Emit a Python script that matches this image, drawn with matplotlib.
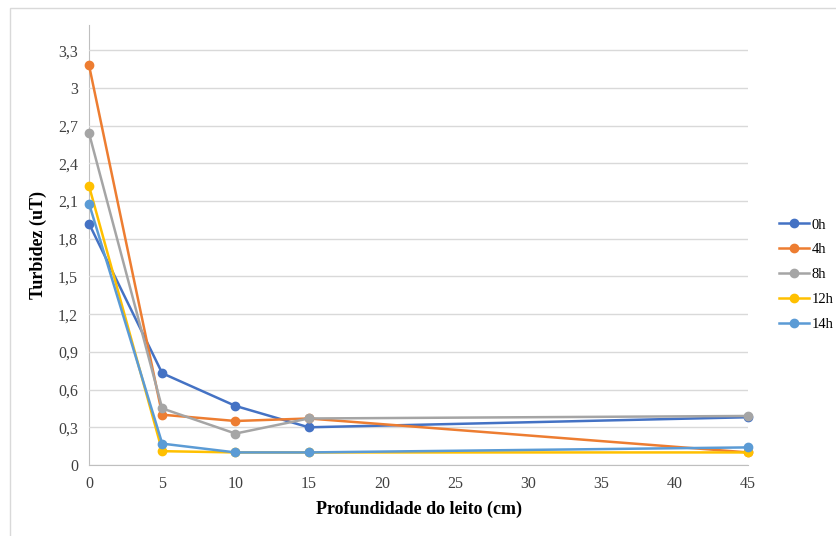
import matplotlib
matplotlib.use("Agg")
import matplotlib.pyplot as plt
from matplotlib.patches import Rectangle

# profundidade do leito (cm)
depth = [0, 5, 10, 15, 45]

# turbidez (uT) por tempo
turb_0h = [1.92, 0.73, 0.47, 0.30, 0.38]
turb_4h = [3.18, 0.40, 0.35, 0.37, 0.10]
turb_8h = [2.64, 0.45, 0.25, 0.37, 0.39]
turb_12h = [2.22, 0.11, 0.10, 0.10, 0.10]
turb_14h = [2.08, 0.17, 0.10, 0.10, 0.14]

series = [
    ("0h", turb_0h, "#4472C4"),
    ("4h", turb_4h, "#ED7D31"),
    ("8h", turb_8h, "#A5A5A5"),
    ("12h", turb_12h, "#FFC000"),
    ("14h", turb_14h, "#5B9BD5"),
]

yticks = [0, 0.3, 0.6, 0.9, 1.2, 1.5, 1.8, 2.1, 2.4, 2.7, 3.0, 3.3]
ylabels = ["0", "0,3", "0,6", "0,9", "1,2", "1,5", "1,8", "2,1", "2,4", "2,7", "3", "3,3"]
xticks = [0, 5, 10, 15, 20, 25, 30, 35, 40, 45]

plt.rcParams['font.family'] = ['Liberation Serif', 'DejaVu Serif']

fig = plt.figure(figsize=(8.36, 5.36), dpi=100)
# chart border
fig.patches.append(Rectangle((10/836, -0.01), 1.0, 1 - 8/536 + 0.01, transform=fig.transFigure,
                             fill=False, edgecolor="#D9D9D9", linewidth=1))
ax = fig.add_axes([89/836, 1 - 465/536, (748 - 89)/836, (465 - 25)/536])

for name, vals, col in series:
    ax.plot(depth, vals, color=col, linewidth=1.8, marker="o", markersize=6,
            label=name, clip_on=False)

ax.set_xlim(0, 45)
ax.set_ylim(0, 3.5)
ax.set_xticks(xticks)
ax.set_xticklabels([str(x) for x in xticks])
ax.set_yticks(yticks)
ax.set_yticklabels(ylabels)
ax.tick_params(length=0, labelsize=11.5, colors="#404040", pad=8)
ax.grid(axis="y", color="#D9D9D9", linewidth=1)
ax.set_axisbelow(True)
for s in ["top", "right"]:
    ax.spines[s].set_visible(False)
ax.spines["left"].set_color("#BFBFBF")
ax.spines["bottom"].set_color("#BFBFBF")
ax.spines["left"].set_zorder(0.5)
ax.spines["bottom"].set_zorder(0.5)

ax.set_xlabel("Profundidade do leito (cm)", fontsize=13, fontweight="bold", labelpad=6)
ax.set_ylabel("Turbidez (uT)", fontsize=13, fontweight="bold", labelpad=8)

ax.legend(loc="upper left", bbox_to_anchor=(775/836, 1 - 214/536), bbox_transform=fig.transFigure,
          frameon=False, fontsize=10.5, handlelength=2.0, handletextpad=0.2,
          labelspacing=0.8, borderaxespad=0, borderpad=0.3)

fig.savefig("out.png", dpi=100)
